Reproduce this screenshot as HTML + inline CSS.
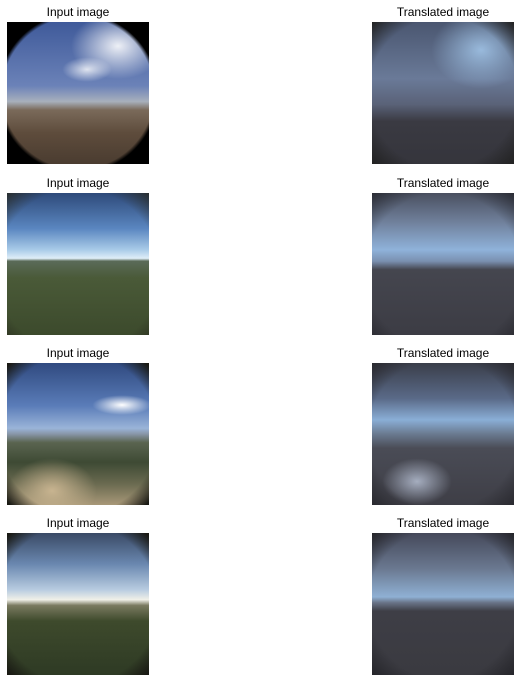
<!DOCTYPE html>
<html><head><meta charset="utf-8"><style>
html,body{margin:0;padding:0;background:#fff;}
body{width:521px;height:682px;position:relative;overflow:hidden;font-family:"Liberation Sans",sans-serif;}
.t{position:absolute;width:200px;text-align:center;font-size:12px;color:#000;line-height:14px;}
.im{position:absolute;width:142px;height:142px;overflow:hidden;}
.im div{position:absolute;}
.vig{left:0;top:0;width:100%;height:100%;}
</style></head><body>
<div class="t" style="left:-22px;top:5px">Input image</div>
<div class="t" style="left:343px;top:5px">Translated image</div>
<div class="t" style="left:-22px;top:176px">Input image</div>
<div class="t" style="left:343px;top:176px">Translated image</div>
<div class="t" style="left:-22px;top:346px">Input image</div>
<div class="t" style="left:343px;top:346px">Translated image</div>
<div class="t" style="left:-22px;top:516px">Input image</div>
<div class="t" style="left:343px;top:516px">Translated image</div>

<!-- row 1 -->
<div class="im" style="left:7px;top:22px;background:linear-gradient(#3f5a9a 0%,#6b82b8 45%,#a8b0bc 56%,#7a6a5a 62%,#5e4c3c 78%,#4a3c30 100%);">
  <div style="left:60px;top:0px;width:85px;height:60px;background:radial-gradient(ellipse at 60% 40%,rgba(255,255,255,.9),rgba(255,255,255,0) 65%);"></div>
  <div style="left:55px;top:35px;width:50px;height:25px;background:radial-gradient(ellipse,rgba(255,255,255,.8),rgba(255,255,255,0) 70%);"></div>
  <div class="vig" style="background:radial-gradient(circle at 50% 50%,rgba(0,0,0,0) 76px,#000 80px);"></div>
</div>
<div class="im" style="left:372px;top:22px;background:linear-gradient(#4a5670 0%,#6a7a98 40%,#5a6278 58%,#3a3a42 70%,#35353c 100%);">
  <div style="left:55px;top:0;width:90px;height:70px;background:radial-gradient(ellipse at 60% 40%,rgba(160,195,230,.9),rgba(160,195,230,0) 65%);"></div>
  <div class="vig" style="background:radial-gradient(circle at 50% 50%,rgba(20,20,25,0) 75px,#222 100px);"></div>
</div>

<!-- row 2 -->
<div class="im" style="left:7px;top:193px;background:linear-gradient(#2e4a7a 0%,#5a86c0 25%,#a9cbe8 40%,#dfeef8 46%,#5a6a58 48%,#4a5a38 60%,#3c4a2c 100%);">
  <div class="vig" style="background:radial-gradient(circle at 50% 55%,rgba(0,0,0,0) 82px,rgba(40,40,30,.8) 105px);"></div>
</div>
<div class="im" style="left:372px;top:193px;background:linear-gradient(#4a5060 0%,#6f7f9a 20%,#8fb2da 40%,#7a90b0 48%,#45464f 54%,#3c3c44 100%);">
  <div class="vig" style="background:radial-gradient(circle at 50% 55%,rgba(0,0,0,0) 78px,rgba(30,30,35,.7) 105px);"></div>
</div>

<!-- row 3 -->
<div class="im" style="left:7px;top:363px;background:linear-gradient(#304a80 0%,#5a7cb8 30%,#9ab4d8 46%,#8896a8 50%,#5a6450 56%,#3e4a34 70%,#6a6a50 85%,#a89878 100%);">
  <div style="left:85px;top:32px;width:60px;height:20px;background:radial-gradient(ellipse,#fff,rgba(255,255,255,0) 70%);"></div>
  <div style="left:0;top:95px;width:90px;height:47px;background:radial-gradient(ellipse at 50% 70%,#c8b490,rgba(200,180,144,0) 70%);"></div>
  <div class="vig" style="background:radial-gradient(circle at 50% 50%,rgba(0,0,0,0) 80px,#1a1a14 98px);"></div>
</div>
<div class="im" style="left:372px;top:363px;background:linear-gradient(#3a3e4a 0%,#5a6a88 25%,#8aaed6 40%,#6a7a90 50%,#4a4c56 60%,#3e3e46 100%);">
  <div style="left:10px;top:95px;width:70px;height:47px;background:radial-gradient(ellipse,rgba(190,200,220,.8),rgba(190,200,220,0) 70%);"></div>
  <div class="vig" style="background:radial-gradient(circle at 50% 50%,rgba(0,0,0,0) 75px,#2a2a30 100px);"></div>
</div>

<!-- row 4 -->
<div class="im" style="left:7px;top:533px;background:linear-gradient(#3a4a66 0%,#6a88b0 22%,#b8cce0 40%,#f0f0e8 47%,#7a7a60 51%,#3e4a2c 62%,#2e3a24 100%);">
  <div class="vig" style="background:radial-gradient(circle at 50% 50%,rgba(0,0,0,0) 80px,#1a1a14 98px);"></div>
</div>
<div class="im" style="left:372px;top:533px;background:linear-gradient(#45495a 0%,#6a7890 25%,#8fb0d4 45%,#6a7488 49%,#3e3e46 55%,#3a3a40 100%);">
  <div class="vig" style="background:radial-gradient(circle at 50% 50%,rgba(0,0,0,0) 75px,#25252a 100px);"></div>
</div>
</body></html>
